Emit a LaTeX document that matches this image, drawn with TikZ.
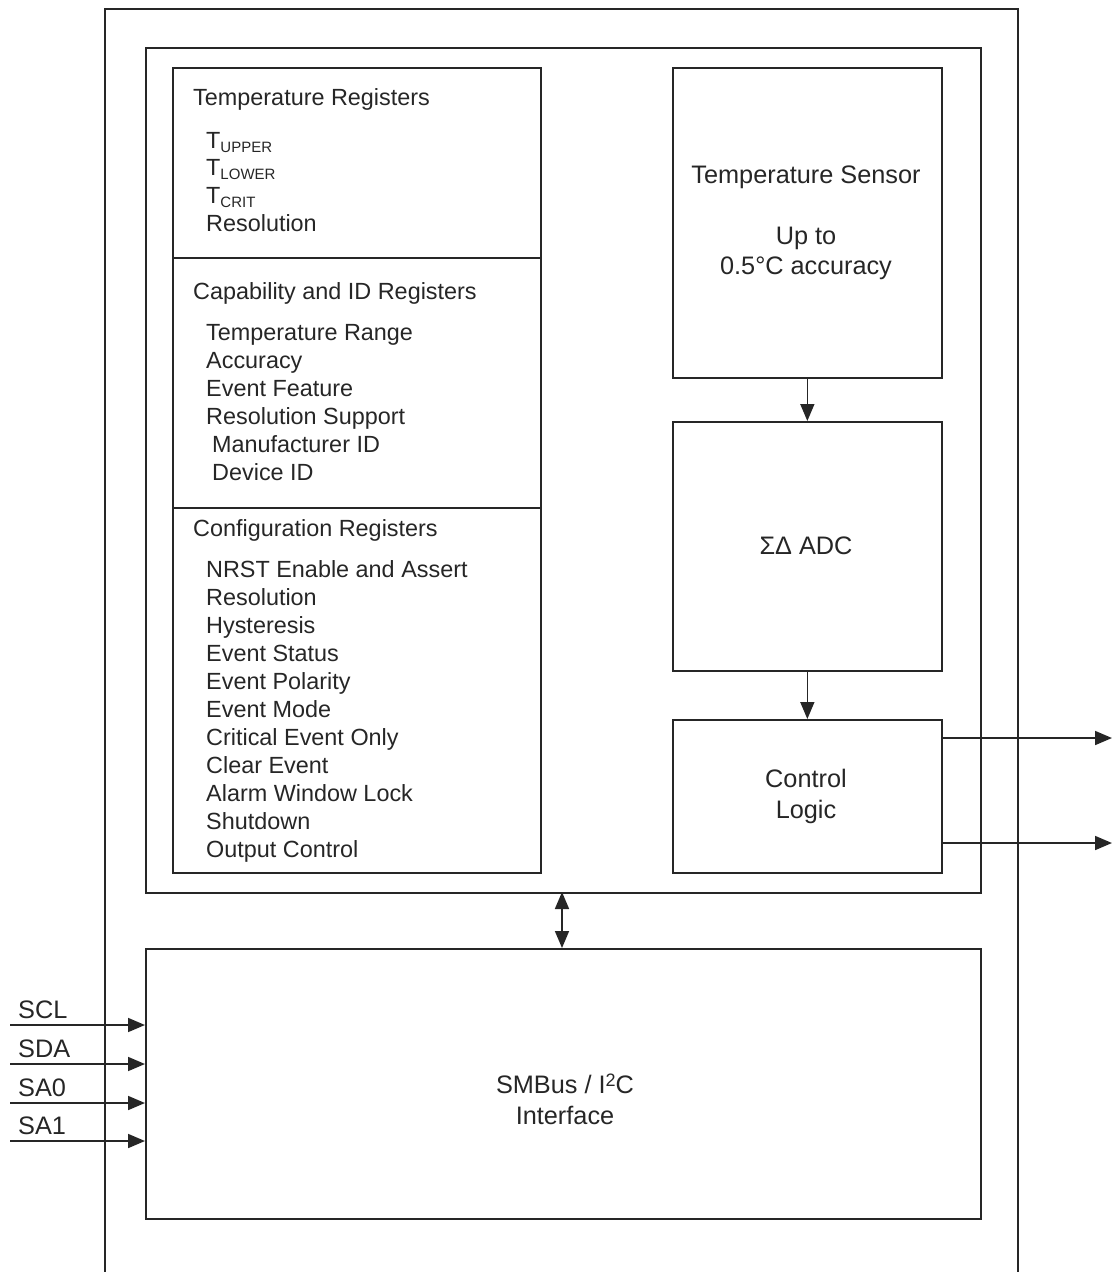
\documentclass[tikz,border=0pt]{standalone}
\usepackage{fontspec}
\setmainfont{Liberation Sans}
\usetikzlibrary{arrows.meta}
\newcommand{\subcap}[1]{\raisebox{-4pt}{\fontsize{15}{15}\selectfont #1}}
\newcommand{\supsm}[1]{\raisebox{7pt}{\fontsize{18}{18}\selectfont #1}}
\begin{document}
\begin{tikzpicture}[x=1pt,y=-1pt,
  box/.style={draw=black!85, line width=1.7pt, inner sep=0pt, anchor=north west},
  ln/.style={draw=black!85, line width=1.7pt},
  txt/.style={inner sep=0pt, anchor=base west, text=black!85, font=\fontsize{23.4}{28}\selectfont},
  ctxt/.style={inner sep=0pt, anchor=base, text=black!85, font=\fontsize{25.3}{30}\selectfont},
  ltxt/.style={inner sep=0pt, anchor=base west, text=black!85, font=\fontsize{25.3}{30}\selectfont},
  tip/.tip={Triangle[length=17pt 0 0,width=14pt 0 0]},
  arr/.style={ln, -tip},
  darr/.style={ln, tip-tip}]
\useasboundingbox (0,0) rectangle (1113,1272);
% outer package outline (open at bottom)
\draw[ln] (105,1272) -- (105,9) -- (1018,9) -- (1018,1272);
% inner core box
\node[box, minimum width=835pt, minimum height=845pt] (core) at (145,47) {};
% register box
\node[box, minimum width=368pt, minimum height=805pt] (regs) at (172,67) {};
\coordinate (d1l) at (172,258); \coordinate (d1r) at (540,258);
\coordinate (d2l) at (172,508); \coordinate (d2r) at (540,508);
\draw[ln] (d1l) -- (d1r);
\draw[ln] (d2l) -- (d2r);
% right column
\node[box, minimum width=269pt, minimum height=310pt] (sens) at (672,67) {};
\node[box, minimum width=269pt, minimum height=249pt] (adc) at (672,421) {};
\node[box, minimum width=269pt, minimum height=153pt] (ctl) at (672,719) {};
% bus interface
\node[box, minimum width=835pt, minimum height=270pt] (bus) at (145,948) {};

% register texts
\node[txt] (t1) at (193,105) {Temperature Registers};
\node[txt] (t1a) at (206,148) {T\subcap{UPPER}};
\node[txt] (t1b) at (206,175) {T\subcap{LOWER}};
\node[txt] (t1c) at (206,203) {T\subcap{CRIT}};
\node[txt] (t1d) at (206,231) {Resolution};

\node[txt] (t2) at (193,299) {Capability and ID Registers};
\node[txt] (t2a) at (206,340) {Temperature Range};
\node[txt] (t2b) at (206,368) {Accuracy};
\node[txt] (t2c) at (206,396) {Event Feature};
\node[txt] (t2d) at (206,424) {Resolution Support};
\node[txt] (t2e) at (212,452) {Manufacturer ID};
\node[txt] (t2f) at (212,480) {Device ID};

\node[txt] (t3) at (193,536) {Configuration Registers};
\foreach \s [count=\i from 0] in {NRST Enable and Assert,Resolution,Hysteresis,Event Status,Event Polarity,Event Mode,Critical Event Only,Clear Event,Alarm Window Lock,Shutdown,Output Control}
  \node[txt] (c\i) at (206,577+28*\i) {\s};

% right column texts
\node[ctxt] (s1) at (806,183) {Temperature Sensor};
\node[ctxt] (s2) at (806,244) {Up to};
\node[ctxt] (s3) at (806,274) {0.5°C accuracy};
\node[ctxt] (a1) at (806,554) {ΣΔ ADC};
\node[ctxt] (l1) at (806,787) {Control};
\node[ctxt] (l2) at (806,818) {Logic};
\node[ctxt] (b1) at (565,1093) {SMBus / I\supsm{2}C};
\node[ctxt] (b2) at (565,1124) {Interface};

% vertical arrows
\draw[arr] (sens.south) -- (adc.north);
\draw[arr] (adc.south) -- (ctl.north);
\coordinate (dtop) at (562,892); \coordinate (dbot) at (562,948);
\draw[darr] (dtop) -- (dbot);

% outputs
\coordinate (o1) at (1112,738); \coordinate (o2) at (1112,843);
\draw[arr] (ctl.east |- o1) -- (o1);
\draw[arr] (ctl.east |- o2) -- (o2);

% inputs
\foreach \n/\yy [count=\i] in {SCL/1025,SDA/1064,SA0/1103,SA1/1141}{
  \coordinate (in\i) at (10,\yy);
  \draw[arr] (in\i) -- (bus.west |- in\i);
  \node[ltxt] (lab\i) at (18,\yy-7) {\n};
}
\end{tikzpicture}
\end{document}
